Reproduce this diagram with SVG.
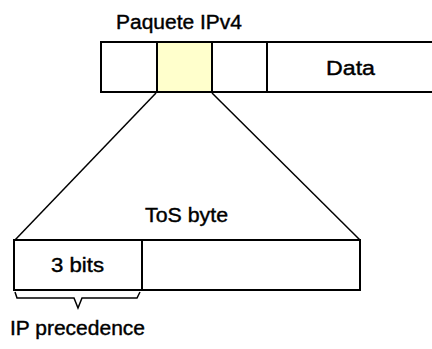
<svg xmlns="http://www.w3.org/2000/svg" width="432" height="349" viewBox="0 0 432 349">
<style>
.box{fill:#fff;stroke:#000;stroke-width:2}
.ln{fill:none;stroke:#000;stroke-width:1.5}
text{font-family:"Liberation Sans",Arial,sans-serif;font-size:20px;fill:#000;stroke:#000;stroke-width:0.4}
</style>
<rect x="0" y="0" width="432" height="349" fill="#fff"/>
<g id="packet">
<text x="116" y="29" textLength="126" lengthAdjust="spacingAndGlyphs">Paquete IPv4</text>
<rect class="box" x="101" y="42" width="340" height="50"/>
<rect x="157" y="43" width="55" height="48" fill="#ffffcc"/>
<line class="box" x1="157" y1="42" x2="157" y2="92"/>
<line class="box" x1="212" y1="42" x2="212" y2="92"/>
<line class="box" x1="267" y1="42" x2="267" y2="92"/>
<text x="326" y="75" textLength="49" lengthAdjust="spacingAndGlyphs">Data</text>
</g>
<g id="connectors">
<line class="ln" x1="156" y1="93" x2="15" y2="240"/>
<line class="ln" x1="212" y1="93" x2="360" y2="240"/>
<path class="ln" d="M15,292 L17,298 L74,298 L78,308 L82,298 L137,298 L140,292"/>
</g>
<g id="tos">
<text x="145" y="222" textLength="83" lengthAdjust="spacingAndGlyphs">ToS byte</text>
<rect class="box" x="14" y="240" width="346" height="50"/>
<line class="box" x1="142" y1="240" x2="142" y2="290"/>
<text x="51" y="272" textLength="53" lengthAdjust="spacingAndGlyphs">3 bits</text>
</g>
<g id="label">
<text x="10" y="335" textLength="135" lengthAdjust="spacingAndGlyphs">IP precedence</text>
</g>
</svg>
